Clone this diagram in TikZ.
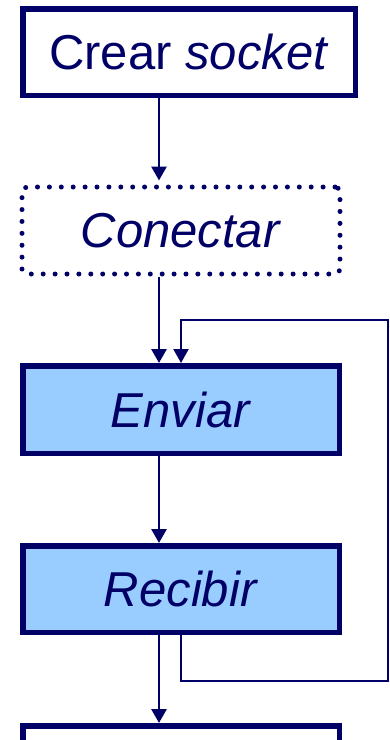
\documentclass[tikz,border=0pt]{standalone}
\usepackage{fontspec}
\setmainfont{Liberation Sans}
\usetikzlibrary{arrows.meta}
\definecolor{navy}{RGB}{0,0,102}
\definecolor{lightblue}{RGB}{153,204,255}
\tikzset{
  stepbox/.style={draw=navy, line width=5.5pt, rectangle, inner sep=0pt,
    text=navy, font=\fontsize{49}{58}\selectfont},
  actbox/.style={stepbox, fill=lightblue},
  optbox/.style={draw=navy, line width=5pt, dash pattern=on 0pt off 11.9pt,
    line cap=round, rounded corners=5pt, rectangle, inner sep=0pt,
    text=navy, font=\fontsize{49}{58}\selectfont},
  flow/.style={draw=navy, line width=2.8pt, -{Triangle[length=14pt,width=15pt]}},
  back/.style={draw=navy, line width=2.2pt, -{Triangle[length=14pt,width=15pt]}},
}
\begin{document}
\begin{tikzpicture}[x=1pt,y=-1pt]
  \useasboundingbox (0,0) rectangle (390,740);
  \clip (0,0) rectangle (390,740);

  % steps of the client
  \node[stepbox, minimum width=332.5pt, minimum height=86.5pt] (crear) at (189,52) {Crear \textit{socket}};
  \node[optbox, minimum width=318pt, minimum height=87pt] (conectar) at (181,230.5) {\textit{Conectar}};
  \node[actbox, minimum width=316.5pt, minimum height=87.5pt] (enviar) at (181,409.5) {\textit{Enviar}};
  \node[actbox, minimum width=316.5pt, minimum height=86.5pt] (recibir) at (181,589) {\textit{Recibir}};
  \node[stepbox, fill=white, minimum width=316.5pt, minimum height=86.5pt] (cerrar) at (181,769) {};

  % main flow column
  \coordinate (col) at (159,0);
  \draw[flow, shorten >=4pt] (crear.south -| col) -- (conectar.north -| col);
  \draw[flow] (conectar.south -| col) -- (enviar.north -| col);
  \draw[flow] (enviar.south -| col) -- (recibir.north -| col);
  \draw[flow] (recibir.south -| col) -- (cerrar.north -| col);

  % repeat loop: back from receive to send
  \coordinate (lr) at (388,681);
  \coordinate (ur) at (388,320);
  \draw[back] (recibir.south) |- (lr) -- (ur) -| (enviar.north);
\end{tikzpicture}
\end{document}
